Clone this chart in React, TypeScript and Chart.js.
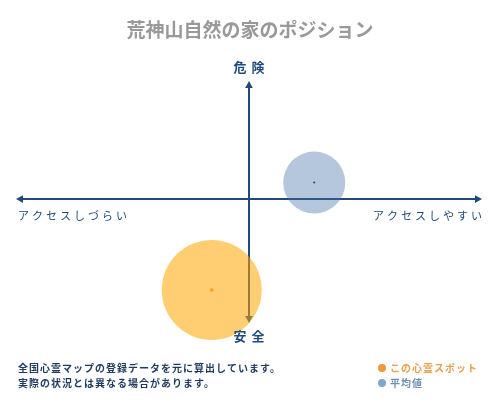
import { useEffect, useRef } from "react";
import Chart from "chart.js/auto";
import type { Chart as ChartInstance, Plugin } from "chart.js";

const FONT = '"Noto Sans CJK JP", "Noto Sans", sans-serif';
const AXIS_COLOR = "#1e4b7b";

const TITLE = "荒神山自然の家のポジション";
const AXIS_LABELS = ["危険", "安全", "アクセスしづらい", "アクセスしやすい"];
const NOTES = ["全国心霊マップの登録データを元に算出しています。", "実際の状況とは異なる場合があります。"];

// series: [this spot, average]
const seriesNames = ["この心霊スポット", "平均値"];
const seriesX = [-0.16, 0.28];
const seriesY = [-0.77, 0.14];
const seriesR = [50, 31];
const seriesFill = ["rgba(255,165,0,0.55)", "rgba(70,115,170,0.4)"];
const seriesDot = ["#f0a020", "#1e3050"];
const legendDot = ["#f09a3a", "#7fa6cc"];
const legendText = ["#e6a050", "#6f90b8"];

const X_RANGE = [-1, 1];
const Y_RANGE = [-1.05, 1];

function arrowHead(ctx: CanvasRenderingContext2D, x: number, y: number, dx: number, dy: number) {
  const size = 7;
  const px = -dy;
  const py = dx;
  ctx.beginPath();
  ctx.moveTo(x, y);
  ctx.lineTo(x - dx * size + px * (size * 0.55), y - dy * size + py * (size * 0.55));
  ctx.lineTo(x - dx * size - px * (size * 0.55), y - dy * size - py * (size * 0.55));
  ctx.closePath();
  ctx.fill();
}

const axesPlugin: Plugin<"bubble"> = {
  id: "cross-axes",
  beforeDatasetsDraw(chart: ChartInstance<"bubble">) {
    const { ctx, chartArea, scales } = chart;
    const x0 = scales.x.getPixelForValue(0);
    const y0 = scales.y.getPixelForValue(0);
    ctx.save();
    ctx.strokeStyle = AXIS_COLOR;
    ctx.fillStyle = AXIS_COLOR;
    ctx.lineWidth = 2;
    ctx.beginPath();
    ctx.moveTo(chartArea.left + 4, y0);
    ctx.lineTo(chartArea.right - 4, y0);
    ctx.moveTo(x0, chartArea.top + 4);
    ctx.lineTo(x0, chartArea.bottom - 4);
    ctx.stroke();
    arrowHead(ctx, chartArea.left, y0, -1, 0);
    arrowHead(ctx, chartArea.right, y0, 1, 0);
    arrowHead(ctx, x0, chartArea.top, 0, -1);
    arrowHead(ctx, x0, chartArea.bottom, 0, 1);
    ctx.restore();
  },
  afterDraw(chart: ChartInstance<"bubble">) {
    const { ctx, chartArea, scales } = chart;
    const x0 = scales.x.getPixelForValue(0);
    const y0 = scales.y.getPixelForValue(0);
    ctx.save();
    ctx.textBaseline = "middle";

    ctx.fillStyle = "#999999";
    ctx.font = `bold 19px ${FONT}`;
    ctx.textAlign = "center";
    ctx.fillText(TITLE, 250, 30);

    ctx.fillStyle = AXIS_COLOR;
    ctx.font = `bold 13px ${FONT}`;
    (ctx as any).letterSpacing = "5px";
    ctx.fillText(AXIS_LABELS[0], x0 + 2.5, chartArea.top - 14);
    ctx.fillText(AXIS_LABELS[1], x0 + 2.5, chartArea.bottom + 13);

    ctx.font = `11px ${FONT}`;
    (ctx as any).letterSpacing = "3px";
    ctx.textAlign = "left";
    ctx.fillText(AXIS_LABELS[2], chartArea.left + 2, y0 + 17);
    ctx.textAlign = "right";
    ctx.fillText(AXIS_LABELS[3], chartArea.right + 3, y0 + 17);

    ctx.font = `bold 10px ${FONT}`;
    (ctx as any).letterSpacing = "1px";
    ctx.textAlign = "left";
    ctx.fillStyle = "#1e3a5f";
    NOTES.forEach((line, i) => ctx.fillText(line, 18, 368 + i * 15));

    seriesNames.forEach((name, i) => {
      const y = 368 + i * 15;
      ctx.fillStyle = legendDot[i];
      ctx.beginPath();
      ctx.arc(382, y, 4, 0, Math.PI * 2);
      ctx.fill();
      ctx.fillStyle = legendText[i];
      ctx.font = `bold 10px ${FONT}`;
      ctx.fillText(name, 390, y);
    });
    ctx.restore();
  },
};

function PositionChart() {
  const canvasRef = useRef<HTMLCanvasElement | null>(null);

  useEffect(() => {
    const canvas = canvasRef.current;
    if (!canvas) return;
    const chart = new Chart(canvas, {
      type: "bubble",
      data: {
        datasets: [
          ...seriesNames.map((name, i) => ({
            label: name,
            data: [{ x: seriesX[i], y: seriesY[i], r: seriesR[i] }],
            backgroundColor: seriesFill[i],
            borderWidth: 0,
            hoverRadius: 0,
            clip: false as const,
          })),
          ...seriesNames.map((name, i) => ({
            label: `${name}-center`,
            data: [{ x: seriesX[i], y: seriesY[i], r: i === 0 ? 1.8 : 1.1 }],
            backgroundColor: seriesDot[i],
            borderWidth: 0,
            hoverRadius: 0,
            clip: false as const,
          })),
        ],
      },
      plugins: [axesPlugin],
      options: {
        responsive: false,
        animation: false,
        layout: { autoPadding: false, padding: { left: 16, right: 18, top: 81, bottom: 77 } },
        plugins: {
          legend: { display: false },
          tooltip: { enabled: false },
        },
        scales: {
          x: { display: false, min: X_RANGE[0], max: X_RANGE[1] },
          y: { display: false, min: Y_RANGE[0], max: Y_RANGE[1] },
        },
      },
    });
    return () => chart.destroy();
  }, []);

  return <canvas ref={canvasRef} width={500} height={400} role="img" aria-label={TITLE} />;
}

export default function App() {
  return (
    <div style={{ position: "fixed", left: 0, top: 0, width: 500, height: 400, background: "#fff" }}>
      <PositionChart />
    </div>
  );
}
